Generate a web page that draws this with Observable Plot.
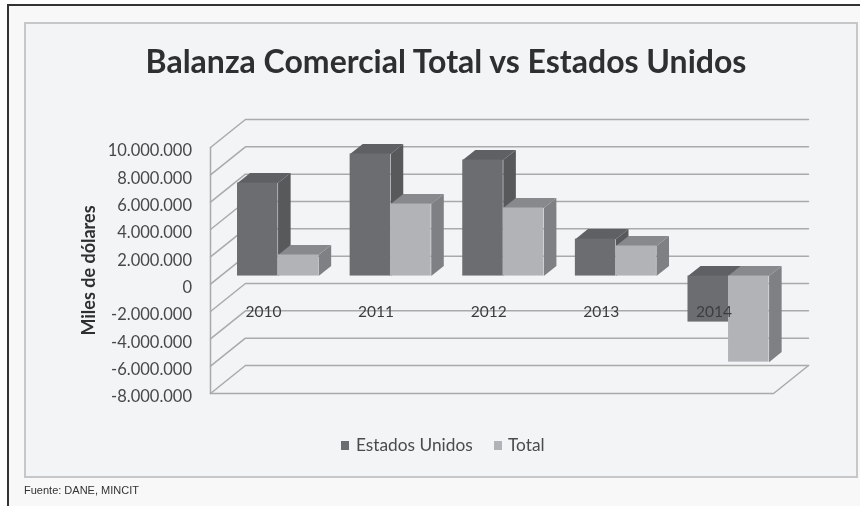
<!DOCTYPE html>
<html lang="es">
<head>
<meta charset="utf-8">
<script src="https://cdn.jsdelivr.net/npm/d3@7"></script>
<script src="https://cdn.jsdelivr.net/npm/@observablehq/plot@0.6"></script>
<style>
  html, body { margin: 0; padding: 0; background: #fff; }
  #page { position: relative; width: 860px; height: 506px; overflow: hidden; background: #f8f8f8; font-family: Lato, sans-serif; filter: blur(0.5px); }
  #outer { position: absolute; left: 7px; top: 4px; right: -4px; bottom: -4px; border: 2px solid #333; box-sizing: border-box; }
  #white { position: absolute; left: 0; top: 0; width: 7px; height: 506px; background: #fff; }
  #whiteTop { position: absolute; left: 0; top: 0; width: 860px; height: 4px; background: #fff; }
  #box { position: absolute; left: 24px; top: 22px; width: 834px; height: 456px; box-sizing: border-box; border: 2px solid #c6c7c8; background: #f3f4f5; }
  #title { position: absolute; left: 0; width: 892px; top: 41px; text-align: center; font: 700 32px Lato, sans-serif; color: #2e2f31; white-space: nowrap; }
  #legend { position: absolute; top: 435px; left: 341px; font: 400 17.3px Lato, sans-serif; color: #4a4b4d; white-space: nowrap; height: 20px; line-height: 20px; }
  #legend i { position: absolute; top: 6px; width: 8px; height: 9px; }
  #legend span { position: absolute; top: 0; }
  #caption { position: absolute; left: 24px; top: 484px; font: 400 11px "Liberation Sans", sans-serif; color: #333; white-space: nowrap; }
  #chart { position: absolute; left: 0; top: 100px; }
  #chart svg { display: block; background: transparent; }
</style>
</head>
<body>
<div id="page">
  <div id="white"></div><div id="whiteTop"></div>
  <div id="outer"></div>
  <div id="box"></div>
  <div id="title"></div>
  <div id="chart"></div>
  <div id="legend"></div>
  <div id="caption"></div>
</div>
<script>
const titleText = "Balanza Comercial Total vs Estados Unidos";
const yLabel = "Miles de dólares";
const captionText = "Fuente: DANE, MINCIT";
const years = ["2010", "2011", "2012", "2013", "2014"];
const estadosUnidos = [6800000, 8930000, 8490000, 2700000, -3370000];
const total = [1540000, 5270000, 4980000, 2200000, -6300000];
const yTicks = [10000000, 8000000, 6000000, 4000000, 2000000, 0, -2000000, -4000000, -6000000, -8000000];

const colors = {
  es: {front: "#6c6d70", top: "#5f6063", side: "#58595b", key: "#6c6d70"},
  total: {front: "#b2b3b6", top: "#88898c", side: "#7f8083", key: "#b2b3b6"}
};
const gridColor = "#a9aaac";

// Oblique projection of the chart's depth axis onto the picture plane.
const wallDx = 0.31, wallDy = 2050000;
const project = (u, v, d) => ({x: u + d * wallDx, y: v + d * wallDy});
const depthFront = 0.29, depthBack = 0.65;
const barGap = 0.15, barW = 0.36;

function faces(values, offset) {
  const top = [], side = [], front = [];
  values.forEach((v, i) => {
    const x0 = i + barGap + offset * barW, x1 = x0 + barW;
    const hi = Math.max(v, 0), lo = Math.min(v, 0);
    [[x0, hi, depthFront], [x1, hi, depthFront], [x1, hi, depthBack], [x0, hi, depthBack]]
      .forEach(([u, w, d]) => top.push({id: i, ...project(u, w, d)}));
    [[x1, hi, depthFront], [x1, hi, depthBack], [x1, lo, depthBack], [x1, lo, depthFront]]
      .forEach(([u, w, d]) => side.push({id: i, ...project(u, w, d)}));
    const a = project(x0, lo, depthFront), b = project(x1, hi, depthFront);
    front.push({x1: a.x, x2: b.x, y1: a.y, y2: b.y});
  });
  return {top, side, front};
}
const esF = faces(estadosUnidos, 0), totF = faces(total, 1);

const nCat = years.length;
const backGrid = yTicks.flatMap(t => [
  {id: t, ...project(0, t, 0)}, {id: t, ...project(0, t, 1)}, {id: t, ...project(nCat, t, 1)}
]);
const leftEdge = d3.extent(yTicks).map(t => ({x: 0, y: t}));
const yMin = d3.min(yTicks);
const floor = [project(0, yMin, 0), project(nCat, yMin, 0), project(nCat, yMin, 1)];
const labels = years.map((y, i) => ({year: y, x: i + 0.47, y: -2050000}));

const fmt = d3.formatLocale({decimal: ",", thousands: ".", grouping: [3], currency: ["", ""], minus: "-"}).format(",d");

const faceMarks = f => c => [
  Plot.line(f.side, {x: "x", y: "y", z: "id", fill: c.side, stroke: "none"}),
  Plot.line(f.top, {x: "x", y: "y", z: "id", fill: c.top, stroke: "none"}),
  Plot.rect(f.front, {x1: "x1", x2: "x2", y1: "y1", y2: "y2", fill: c.front})
];

const chart = Plot.plot({
  width: 860, height: 310,
  marginLeft: 210, marginRight: 52, marginTop: 19, marginBottom: 17,
  style: {background: "transparent", overflow: "visible"},
  x: {domain: [0, nCat + wallDx], axis: null},
  y: {domain: [yMin, 10000000 + wallDy], axis: null},
  marks: [
    Plot.line(backGrid, {x: "x", y: "y", z: "id", stroke: gridColor, strokeWidth: 1.5}),
    Plot.line(leftEdge, {x: "x", y: "y", stroke: gridColor, strokeWidth: 1.5}),
    Plot.line(floor, {x: "x", y: "y", stroke: gridColor, strokeWidth: 1.5}),
    ...faceMarks(esF)(colors.es),
    ...faceMarks(totF)(colors.total),
    Plot.axisY({ticks: yTicks, tickFormat: fmt, tickSize: 0, tickPadding: 18.5, label: null, dy: 3.5,
      fontSize: 16.5, fill: "#47484a", fontFamily: "Lato, sans-serif"}),
    Plot.text([yLabel], {text: d => d, x: [0], y: [1000000], dx: -121, rotate: -90,
      fontSize: 18, fontWeight: 700, fill: "#2e2f31", fontFamily: "Lato, sans-serif"}),
    Plot.text(labels, {x: "x", y: "y", text: "year", fontSize: 15.5, fill: "#3c3d3f", fontFamily: "Lato, sans-serif"})
  ]
});
document.getElementById("chart").appendChild(chart);

document.getElementById("title").textContent = titleText;
document.getElementById("caption").textContent = captionText;

const legendItems = [
  {name: "Estados Unidos", color: colors.es.key, at: 0, text: 15},
  {name: "Total", color: colors.total.key, at: 153, text: 167}
];
const legend = document.getElementById("legend");
legendItems.forEach(d => {
  const k = document.createElement("i");
  k.style.left = d.at + "px"; k.style.background = d.color;
  const s = document.createElement("span");
  s.style.left = d.text + "px"; s.textContent = d.name;
  legend.append(k, s);
});
</script>
</body>
</html>
